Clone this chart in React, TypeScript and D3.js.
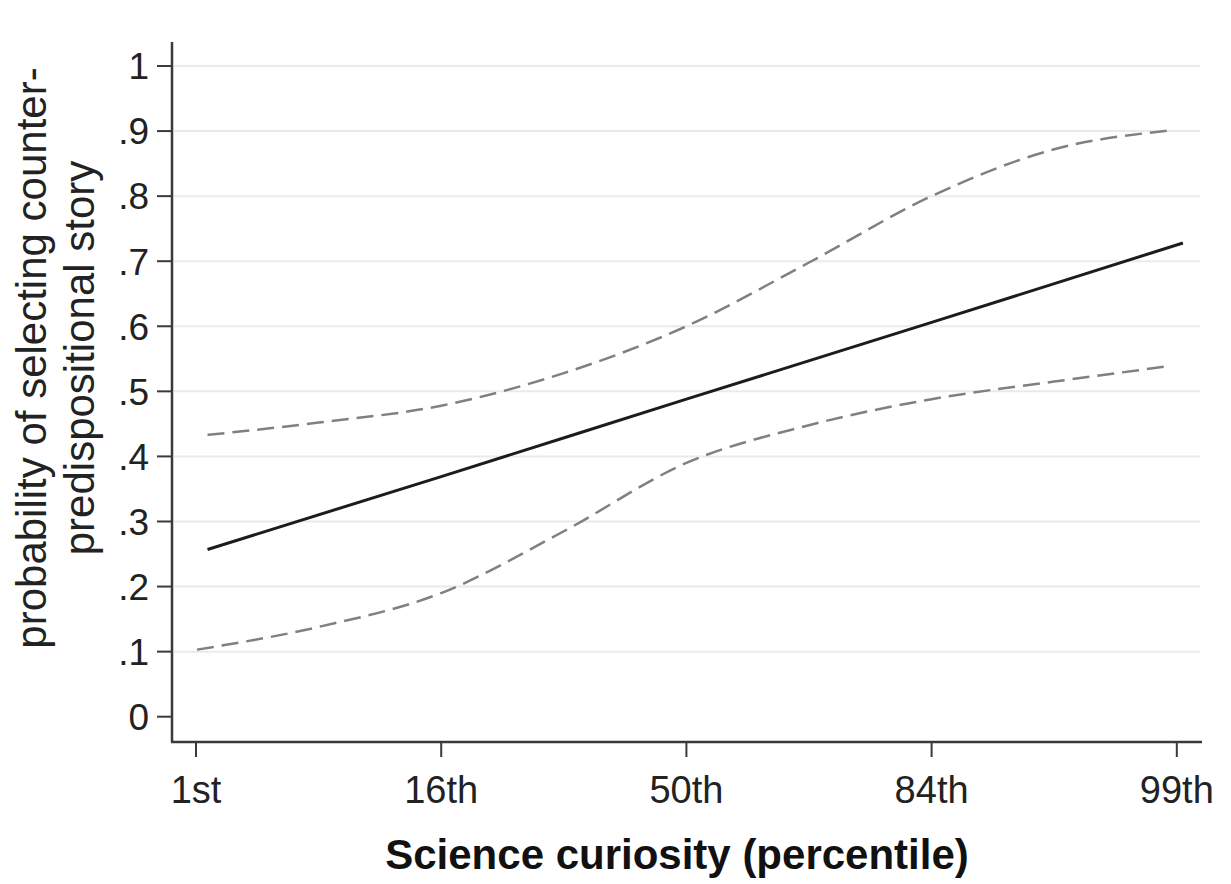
import React from 'react'
import * as d3 from 'd3'

// x is the curiosity score in SD units; ticks are labelled as percentiles
const xTickValues = [-2, -1, 0, 1, 2]
const xTickLabels = ['1st', '16th', '50th', '84th', '99th']

const yTickValues = [0, 0.1, 0.2, 0.3, 0.4, 0.5, 0.6, 0.7, 0.8, 0.9, 1]
const yTickLabels = ['0', '.1', '.2', '.3', '.4', '.5', '.6', '.7', '.8', '.9', '1']

// predicted probability
const fitX = [-1.953, -1, 0, 1, 2.025]
const fitY = [0.257, 0.369, 0.488, 0.606, 0.728]

// upper 95% bound
const upperX = [-1.953, -1.5, -1, -0.5, 0, 0.5, 1, 1.5, 1.974]
const upperY = [0.433, 0.452, 0.478, 0.528, 0.6, 0.698, 0.8, 0.872, 0.901]

// lower 95% bound
const lowerX = [-1.996, -1.5, -1, -0.5, 0, 0.5, 1, 1.5, 1.974]
const lowerY = [0.103, 0.138, 0.19, 0.285, 0.39, 0.448, 0.488, 0.515, 0.539]

const FONT = '"Liberation Sans", Arial, Helvetica, sans-serif'

export default function App() {
    const width = 1231, height = 884
    const axisLeft = 172, axisBottom = 742, axisTop = 42, axisRight = 1202

    let x = d3.scaleLinear().domain([-2, 2]).range([196, 1176.8])
    let y = d3.scaleLinear().domain([0, 1]).range([716.7, 66])

    let line = d3.line<[number, number]>()
        .x(d => x(d[0]))
        .y(d => y(d[1]))
        .curve(d3.curveMonotoneX)

    const zip = (a: number[], b: number[]) => a.map((v, i) => [v, b[i]] as [number, number])

    return (
        <svg width={width} height={height} style={{position: 'absolute', left: 0, top: 0, background: '#fff'}}>
            {/* grid */}
            <g>
                {yTickValues.filter(v => v > 0).map(v =>
                    <line key={'g' + v} x1={axisLeft + 2} x2={1200} y1={y(v)} y2={y(v)} stroke="#e6ecec" strokeWidth={2}/>
                )}
            </g>

            {/* y axis */}
            <line x1={axisLeft} x2={axisLeft} y1={axisTop} y2={axisBottom} stroke="#3a3a3a" strokeWidth={2.5}/>
            {yTickValues.map((v, i) =>
                <g key={'y' + v}>
                    <line x1={axisLeft - 15} x2={axisLeft} y1={y(v)} y2={y(v)} stroke="#3a3a3a" strokeWidth={2}/>
                    <text x={149} y={y(v)} dy="0.36em" textAnchor="end" fontFamily={FONT} fontSize={37} fill="#222">{yTickLabels[i]}</text>
                </g>
            )}

            {/* x axis */}
            <line x1={axisLeft - 1} x2={axisRight} y1={axisBottom} y2={axisBottom} stroke="#3a3a3a" strokeWidth={2.5}/>
            {xTickValues.map((v, i) =>
                <g key={'x' + v}>
                    <line x1={x(v)} x2={x(v)} y1={axisBottom} y2={axisBottom + 15} stroke="#3a3a3a" strokeWidth={2}/>
                    <text x={x(v)} y={803} textAnchor="middle" fontFamily={FONT} fontSize={38} fill="#222">{xTickLabels[i]}</text>
                </g>
            )}

            {/* lines */}
            <path d={line(zip(upperX, upperY)) || ''} fill="none" stroke="#808080" strokeWidth={2.5} strokeDasharray="17 8"/>
            <path d={line(zip(lowerX, lowerY)) || ''} fill="none" stroke="#808080" strokeWidth={2.5} strokeDasharray="17 8"/>
            <path d={line(zip(fitX, fitY)) || ''} fill="none" stroke="#1c1c1c" strokeWidth={3}/>

            {/* titles */}
            <g transform="translate(46,358) rotate(-90)">
                <text x={0} y={0} textAnchor="middle" fontFamily={FONT} fontSize={42} fill="#222">probability of selecting counter-</text>
                <text x={0} y={48} textAnchor="middle" fontFamily={FONT} fontSize={42} fill="#222">predispositional story</text>
            </g>
            <text x={677} y={869} textAnchor="middle" fontFamily={FONT} fontSize={42} fontWeight="bold" fill="#111">Science curiosity (percentile)</text>
        </svg>
    )
}
